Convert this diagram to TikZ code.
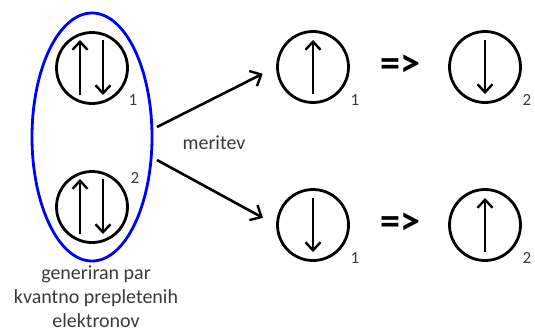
\documentclass[tikz,border=0pt]{standalone}
\usepackage{fontspec}
\setmainfont{Carlito}
\usetikzlibrary{arrows.meta,shapes.geometric}
\definecolor{txt}{HTML}{3A3A3A}
\tikzset{
  spin/.style={circle,draw,line width=2.8pt,minimum size=71pt,inner sep=0pt},
  sarrow/.style={line width=2.6pt,-{Straight Barb[length=8pt,width=15pt,line width=2.4pt]}},
  conn/.style={line width=2.6pt,shorten >=15pt,-{Straight Barb[length=9pt,width=17pt,line width=2.4pt]}},
  idx/.style={font=\fontsize{17}{17}\selectfont,text=txt},
  lbl/.style={font=\fontsize{20}{24}\selectfont,text=txt},
  impl/.style={font=\fontsize{40}{40}\selectfont\bfseries}
}
\begin{document}
\begin{tikzpicture}[x=1pt,y=-1pt]
\useasboundingbox (0,0) rectangle (535,333);
% entangled pair
\node[ellipse,draw=blue,line width=2.8pt,minimum width=120pt,minimum height=248pt,inner sep=0pt] (pair) at (92,137) {};
\node[spin] (a1) at (92,68) {};
\node[spin] (a2) at (92,207) {};
\draw[sarrow] (80,95) -- (80,40);
\draw[sarrow] (103,40) -- (103,95);
\draw[sarrow] (80,234) -- (80,179);
\draw[sarrow] (103,179) -- (103,234);
\node[idx] (i1) at (133,100) {1};
\node[idx] (i2) at (135,178) {2};
% right side
\node[spin] (b1) at (313,67) {};
\node[spin] (b2) at (485,67) {};
\node[spin] (c1) at (313,225) {};
\node[spin] (c2) at (485,225) {};
\draw[sarrow] (313,94) -- (313,40);
\draw[sarrow] (485,40) -- (485,94);
\draw[sarrow] (313,198) -- (313,252);
\draw[sarrow] (485,252) -- (485,198);
\node[idx] (j1) at (355,100) {1};
\node[idx] (j2) at (527,100) {2};
\node[idx] (k1) at (355,258) {1};
\node[idx] (k2) at (527,258) {2};
\node[impl] (e1) at (400,66) {=>};
\node[impl] (e2) at (400,224) {=>};
% connectors
\coordinate (s1) at (157,127);
\coordinate (s2) at (157,160);
\draw[conn] (s1) -- (b1.west);
\draw[conn] (s2) -- (c1.west);
\node[lbl] (m) at (214,143) {meritev};
% caption
\node[lbl,align=center] (cap) at (96,297) {generiran par\\kvantno prepletenih\\elektronov};
\end{tikzpicture}
\end{document}
